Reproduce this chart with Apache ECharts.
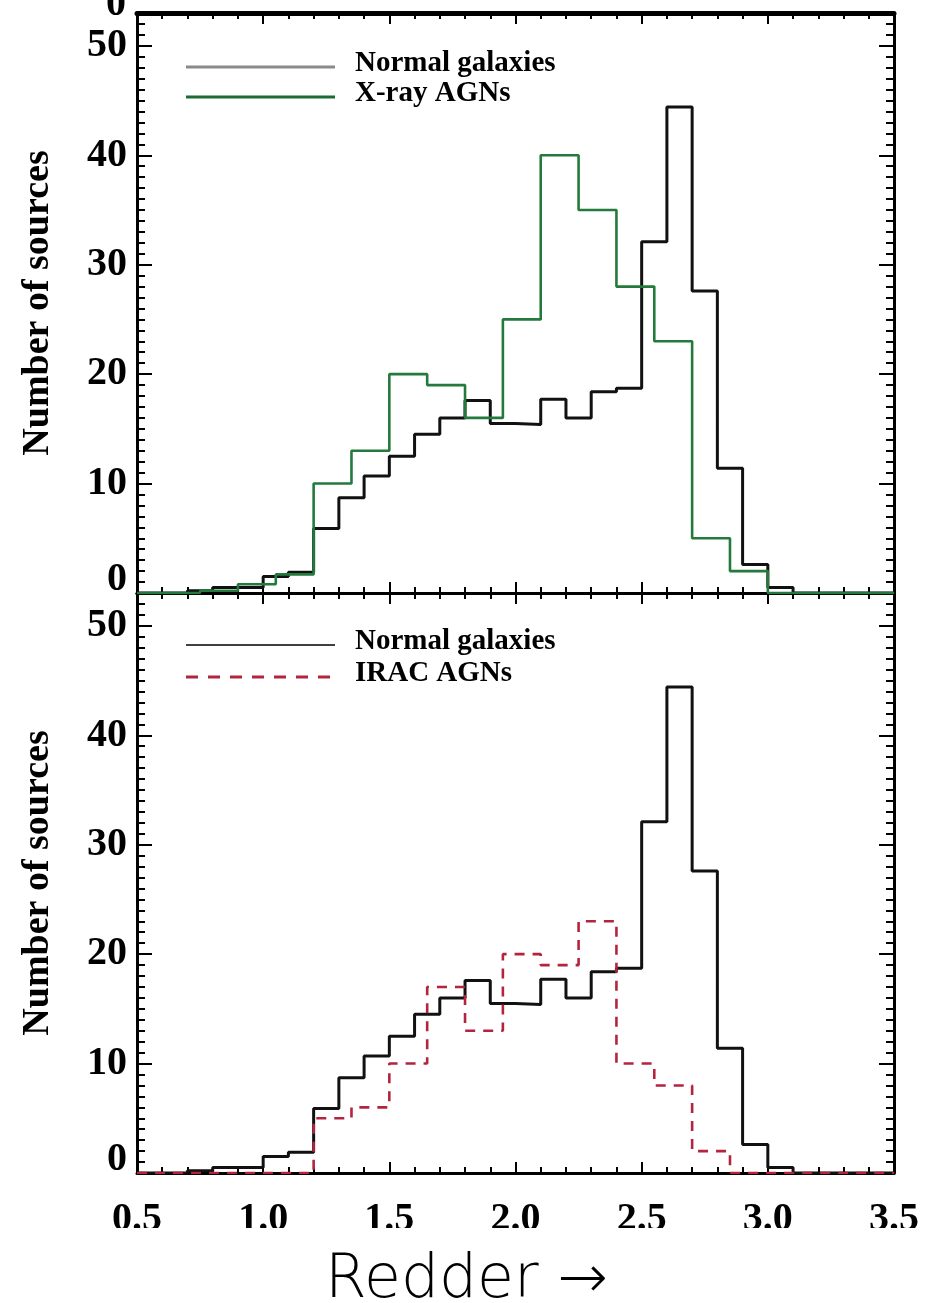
<!DOCTYPE html>
<html>
<head>
<meta charset="utf-8">
<script src="https://cdn.jsdelivr.net/npm/echarts@6/dist/echarts.min.js"></script>
<style>
  html, body { margin: 0; padding: 0; background: #fff; }
  #chart { width: 927px; height: 1303px; }
</style>
</head>
<body>
<div id="chart"></div>
<script>
// Colour histograms: bin edges and (normalised) source counts per bin.
const normalEdges = [0.5, 0.6, 0.7, 0.8, 0.9, 1.0, 1.1, 1.2, 1.3, 1.4, 1.5, 1.6, 1.7, 1.8, 1.9, 2.0,
                     2.1, 2.2, 2.3, 2.4, 2.5, 2.6, 2.7, 2.8, 2.9, 3.0, 3.1, 3.2, 3.3, 3.4, 3.5];
const normalCounts = [0, 0, 0.2, 0.5, 0.5, 1.5, 1.9, 5.9, 8.7, 10.7, 12.5, 14.5, 16.0, 17.6, 15.5,
                      15.4, 17.7, 16.0, 18.4, 18.7, 32.1, 44.4, 27.6, 11.4, 2.6, 0.5, 0, 0, 0, 0];

const xrayEdges = [0.5, 0.75, 0.9, 1.05, 1.2, 1.35, 1.5, 1.65, 1.8, 1.95, 2.1, 2.25, 2.4, 2.55,
                   2.7, 2.85, 3.0, 3.5];
const xrayCounts = [0, 0.2, 0.8, 1.7, 10, 13, 20, 19, 16, 25, 40, 35, 28, 23, 5, 2, 0];

const iracEdges = [0.5, 1.2, 1.35, 1.5, 1.65, 1.8, 1.95, 2.1, 2.25, 2.4, 2.55, 2.7, 2.85, 3.5];
const iracCounts = [0, 5, 6, 10, 17, 13, 20, 19, 23, 10, 8, 2, 0];

const xRange = [0.5, 3.5];
const yRange = [0, 53];
const yAxisTitle = 'Number of sources';
const xAxisTitle = 'Redder \u2192';
const legendTop = ['Normal galaxies', 'X-ray AGNs'];
const legendBottom = ['Normal galaxies', 'IRAC AGNs'];

const SERIF = '"Liberation Serif", "Times New Roman", serif';
const BLACK = '#111';
const GREEN = '#237a3c';
const RED = '#b3253f';

// Turn edges + counts into step-line points (left edge carries the bin value).
function stepPoints(edges, counts) {
  const pts = counts.map((c, i) => [edges[i], c]);
  pts.push([edges[edges.length - 1], counts[counts.length - 1]]);
  return pts;
}

function xAxis(gridIndex, position, withLabels, lineWidth) {
  return {
    type: 'value', gridIndex, position,
    min: xRange[0], max: xRange[1], interval: 0.5,
    axisLine: { show: true, onZero: false, lineStyle: { color: '#000', width: lineWidth } },
    axisTick: { show: true, inside: true, length: 11, lineStyle: { color: '#000', width: 2 } },
    minorTick: { show: true, splitNumber: 5, length: 6, lineStyle: { color: '#000', width: 2 } },
    splitLine: { show: false }, minorSplitLine: { show: false },
    axisLabel: withLabels ? {
      show: true, margin: 27, color: '#000', fontFamily: SERIF, fontWeight: 'bold', fontSize: 40,
      formatter: v => v.toFixed(1)
    } : { show: false }
  };
}

function yAxisMajor(gridIndex, position, withLabels) {
  const ax = {
    type: 'value', gridIndex, position,
    min: yRange[0], max: yRange[1], interval: 10,
    axisLine: { show: true, onZero: false, lineStyle: { color: '#000', width: 3 } },
    axisTick: { show: true, inside: true, length: 15, lineStyle: { color: '#000', width: 2 } },
    splitLine: { show: false },
    axisLabel: { show: false }
  };
  if (withLabels) {
    ax.axisLabel = {
      show: true, margin: 10, color: '#000', fontFamily: SERIF, fontWeight: 'bold', fontSize: 40,
      formatter: v => (v % 10 !== 0 ? '' : (v === 0 ? '{z|0}' : String(v))),
      rich: { z: { fontFamily: SERIF, fontWeight: 'bold', fontSize: 40, color: '#000', padding: [0, 0, 26, 0] } }
    };
    ax.name = yAxisTitle;
    ax.nameLocation = 'middle';
    ax.nameRotate = 90;
    ax.nameGap = 80;
    ax.nameTextStyle = { color: '#000', fontFamily: SERIF, fontWeight: 'bold', fontSize: 38 };
  }
  return ax;
}

function yAxisMinor(gridIndex, position) {
  return {
    type: 'value', gridIndex, position,
    min: yRange[0], max: yRange[1], interval: 1,
    axisLine: { show: false },
    axisTick: { show: true, inside: true, length: 8, lineStyle: { color: '#000', width: 2 } },
    splitLine: { show: false },
    axisLabel: { show: false }
  };
}

function hist(name, edges, counts, xi, yi, color, width, type, z) {
  return {
    type: 'line', name, xAxisIndex: xi, yAxisIndex: yi,
    data: stepPoints(edges, counts), step: 'end',
    symbol: 'none', showSymbol: false, z,
    lineStyle: { color, width, type },
    emphasis: { disabled: true }
  };
}

function legendEntry(y, label, color, width, dash) {
  return [
    { type: 'line', shape: { x1: 186, y1: y, x2: 335, y2: y },
      style: { stroke: color, lineWidth: width, lineDash: dash || null }, z: 10 },
    { type: 'text', x: 355, y: y - 3,
      style: { text: label, fill: '#000', fontFamily: SERIF, fontWeight: 'bold', fontSize: 29,
               align: 'left', verticalAlign: 'middle' }, z: 10 }
  ];
}

const chart = echarts.init(document.getElementById('chart'), null, { renderer: 'canvas' });

chart.setOption({
  animation: false,
  backgroundColor: '#fff',
  grid: [
    { left: 137, top: 13, width: 757, height: 580 },
    { left: 137, top: 593, width: 757, height: 580 }
  ],
  xAxis: [
    xAxis(0, 'bottom', false, 3),
    xAxis(0, 'top', false, 5),
    xAxis(1, 'bottom', true, 3),
    xAxis(1, 'top', false, 3)
  ],
  yAxis: [
    yAxisMajor(0, 'left', true), yAxisMinor(0, 'left'),
    yAxisMajor(0, 'right', false), yAxisMinor(0, 'right'),
    yAxisMajor(1, 'left', true), yAxisMinor(1, 'left'),
    yAxisMajor(1, 'right', false), yAxisMinor(1, 'right')
  ],
  series: [
    hist('Normal galaxies', normalEdges, normalCounts, 0, 0, BLACK, 3, 'solid', 3),
    hist('X-ray AGNs', xrayEdges, xrayCounts, 0, 0, GREEN, 2.6, 'solid', 4),
    hist('Normal galaxies', normalEdges, normalCounts, 2, 4, BLACK, 3, 'solid', 3),
    hist('IRAC AGNs', iracEdges, iracCounts, 2, 4, RED, 2.6, [10, 8], 4)
  ],
  graphic: [
    ...legendEntry(67, legendTop[0], '#8a8a8a', 3),
    ...legendEntry(97, legendTop[1], '#1d6b33', 3),
    ...legendEntry(645, legendBottom[0], '#000', 1.5),
    ...legendEntry(677, legendBottom[1], RED, 3, [12, 10]),
    // tick label of a panel above, cut by the top edge
    { type: 'text', x: 126, y: 25,
      style: { text: '0', fill: '#000', fontFamily: SERIF, fontWeight: 'bold', fontSize: 40,
               align: 'right', verticalAlign: 'bottom' }, z: 10 },
    // white band under the tick labels, carrying the axis caption
    { type: 'rect', shape: { x: 0, y: 1228, width: 927, height: 75 },
      style: { fill: '#fff' }, z: 100 },
    { type: 'text', x: 325, y: 1281,
      style: { text: xAxisTitle, fill: '#000', fontFamily: '"DejaVu Sans", sans-serif',
               fontWeight: 200, fontSize: 60, align: 'left', verticalAlign: 'middle' }, z: 101 }
  ]
});
</script>
</body>
</html>
